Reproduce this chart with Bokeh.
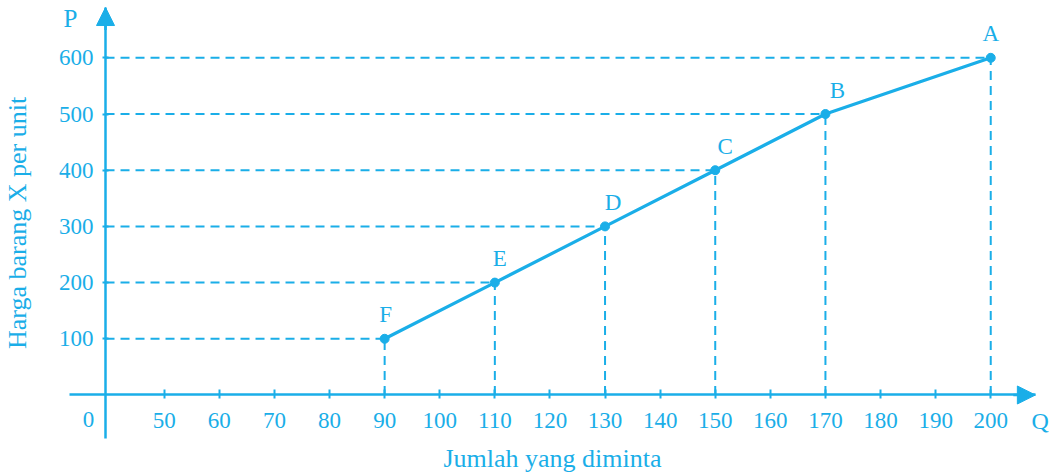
from bokeh.plotting import figure
from bokeh.models import (ColumnDataSource, FixedTicker, Range1d, Arrow, NormalHead)
from bokeh.core.properties import value
from bokeh.embed import file_html
from bokeh.resources import INLINE

# ---- data ----
quantity = [90, 110, 130, 150, 170, 200]
price = [100, 200, 300, 400, 500, 600]
point_labels = ["F", "E", "D", "C", "B", "A"]
x_ticks = [50, 60, 70, 80, 90, 100, 110, 120, 130, 140, 150, 160, 170, 180, 190, 200]
y_ticks = [100, 200, 300, 400, 500, 600]
x_title = "Jumlah yang diminta"
y_title = "Harga barang X per unit"

# ---- style ----
C = "#1aaee8"
FONT = "Liberation Serif"
W, H = 1052, 474
Y_AXIS_X = 39.34       # where the vertical axis crosses
X_MIN, X_TIP = 32.8, 208.1
Y_MIN, Y_TIP = -77.4, 689.5
LABEL_DX = [1, 5, 8, 10, 12, 0]   # screen offsets of point letters

p = figure(width=W, height=H, output_backend="svg", toolbar_location=None,
           x_range=Range1d(20.28, 211.21), y_range=Range1d(-141.5, 702.0),
           min_border=0, min_border_left=0, min_border_right=0,
           min_border_top=0, min_border_bottom=0)
p.outline_line_color = None
p.xgrid.visible = False
p.ygrid.visible = False
p.background_fill_color = "white"

# axes at fixed locations
xa = p.xaxis[0]
ya = p.yaxis[0]
xa.fixed_location = 0
ya.fixed_location = Y_AXIS_X
xa.bounds = (X_MIN, X_TIP)
ya.bounds = (Y_MIN, Y_TIP)
xa.ticker = FixedTicker(ticks=x_ticks)
ya.ticker = FixedTicker(ticks=y_ticks)
for ax in (xa, ya):
    ax.axis_line_color = C
    ax.axis_line_width = 2.5
    ax.major_tick_line_color = C
    ax.major_tick_line_width = 2
    ax.minor_tick_line_color = None
    ax.major_label_text_color = C
    ax.major_label_text_font = FONT
    ax.major_label_text_font_size = "23px"
    ax.axis_label_text_color = C
    ax.axis_label_text_font = FONT
    ax.axis_label_text_font_size = "26px"
    ax.axis_label_text_font_style = "normal"
xa.major_tick_in = 5
xa.major_tick_out = 4
ya.major_tick_in = 3
ya.major_tick_out = 3
xa.major_label_standoff = 14
ya.major_label_standoff = 9
xa.axis_label = x_title
ya.axis_label = y_title
xa.axis_label_standoff = 13
ya.axis_label_standoff = 24

# arrow heads
p.add_layout(Arrow(end=NormalHead(size=18, fill_color=C, line_color=C),
                   x_start=X_TIP - 4, y_start=0, x_end=X_TIP, y_end=0,
                   line_color=C, line_width=2.5))
p.add_layout(Arrow(end=NormalHead(size=18, fill_color=C, line_color=C),
                   x_start=Y_AXIS_X, y_start=Y_TIP - 40, x_end=Y_AXIS_X, y_end=Y_TIP,
                   line_color=C, line_width=2.5))

src = ColumnDataSource(dict(q=quantity, p=price, lab=point_labels, dx=LABEL_DX,
                            x0=[Y_AXIS_X] * len(quantity), y0=[0] * len(quantity)))

# dashed guides
p.segment(x0="x0", y0="p", x1="q", y1="p", source=src, line_color=C,
          line_width=2, line_dash="9 6")
p.segment(x0="q", y0="y0", x1="q", y1="p", source=src, line_color=C,
          line_width=2, line_dash="9 6")

# demand line and points
p.line("q", "p", source=src, line_color=C, line_width=3.2)
p.scatter("q", "p", source=src, size=9, fill_color=C, line_color=C)

# point labels
p.text("q", "p", text="lab", source=src, text_color=C, text_font=value(FONT),
       text_font_size="23px", text_align="center", text_baseline="alphabetic",
       x_offset="dx", y_offset=-24)

# axis end letters and origin
p.text(x=[32.98], y=[689.5], text=["P"], text_color=C, text_font=value(FONT),
       text_font_size="25px", text_align="center", text_baseline="top", y_offset=-3)
p.text(x=[207.4], y=[0], text=["Q"], text_color=C, text_font=value(FONT),
       text_font_size="24px", text_align="left", text_baseline="top", y_offset=13)
p.text(x=[36.25], y=[0], text=["0"], text_color=C, text_font=value(FONT),
       text_font_size="23px", text_align="center", text_baseline="top", y_offset=17)

open("out.html", "w").write(file_html(p, INLINE))
